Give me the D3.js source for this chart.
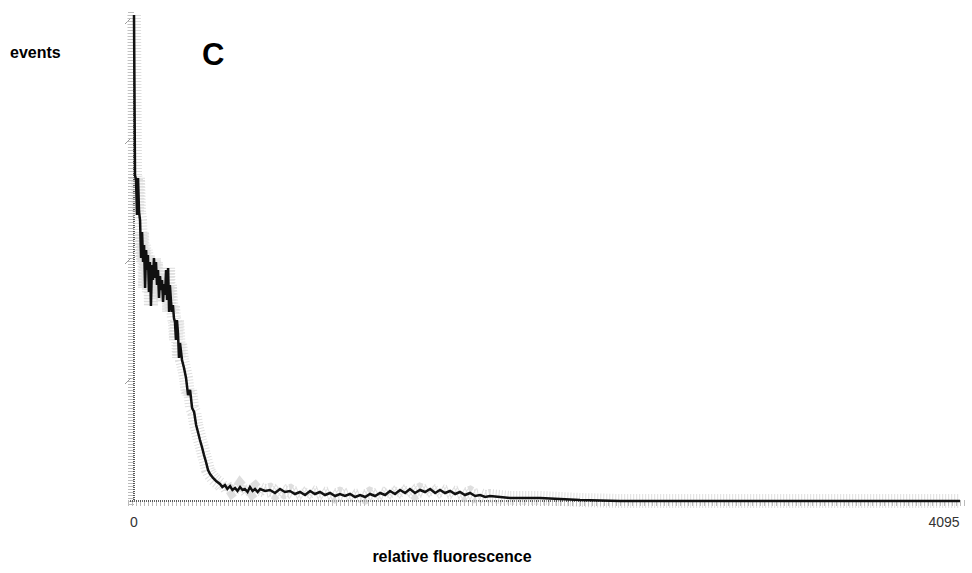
<!DOCTYPE html>
<meta charset="utf-8">
<html>
<head>
    <script src="https://cdn.jsdelivr.net/npm/d3@7"></script>
    <style>
        body { margin: 0; background: #fff; }
        text { font-family: "Liberation Sans", Arial, sans-serif; }
    </style>
</head>
<body>
    <script>
    // channel numbers (0..4095) and event counts
    var channels = [0, 5, 10, 15, 20, 25, 30, 35, 40, 45, 50, 55, 60, 65, 69, 74, 79, 84, 89, 94,
        99, 104, 109, 114, 119, 124, 129, 134, 139, 144, 149, 154, 159, 164, 169, 174, 178, 183, 188, 193,
        198, 203, 208, 213, 218, 223, 228, 238, 248, 258, 268, 278, 288, 298, 308, 317,
        327, 337, 347, 357, 367, 377, 392, 407, 426, 438, 451, 463, 476, 488, 501, 513, 526, 538, 550, 563, 575, 588, 600,
        613, 625, 650, 674, 699, 724, 748, 773, 798, 823, 848, 873, 897, 922, 947, 972, 997, 1021, 1046, 1071, 1096,
        1121, 1146, 1170, 1195, 1220, 1245, 1269, 1294, 1319, 1344, 1368, 1393, 1418, 1443, 1468, 1493,
        1517, 1542, 1567, 1592, 1616, 1641, 1666, 1691, 1716, 1741, 1765, 1815, 1864, 1914, 2013, 2112, 2211, 2410, 4095];
    var events = [486, 326, 321, 286, 323, 289, 281, 243, 269, 239, 256, 213, 251, 231, 246, 209, 239, 195, 236, 221,
        243, 223, 239, 216, 231, 203, 225, 211, 221, 199, 217, 206, 231, 201, 233, 189, 216, 201, 189, 196,
        183, 179, 161, 181, 168, 143, 158, 141, 133, 123, 106, 111, 93, 89, 76, 69,
        61, 54, 46, 39, 31, 27, 23, 20, 17, 14, 16, 12, 15, 11, 13, 10, 14, 11, 12, 9, 14, 10, 12,
        9, 12, 10, 11, 8, 12, 9, 10, 7, 9, 6, 10, 7, 9, 6, 8, 5, 7, 5, 7, 4,
        6, 4, 7, 5, 8, 6, 10, 7, 11, 8, 12, 8, 11, 9, 12, 8,
        11, 8, 10, 7, 9, 6, 8, 5, 6, 4, 5, 4, 3, 3, 3, 2, 1, 0, 0];
    var xTicks = [0, 4095];
    var yTicks = [120, 240, 360, 480];

    var svg = d3.select("body")
       .append("svg")
       .attr("width", 972)
       .attr("height", 573);

    var xScale = d3.scaleLinear()
       .domain([0, 4095])
       .range([134, 960]);

    var yScale = d3.scaleLinear()
       .domain([0, 486])
       .range([501, 15]);

    var data = channels.map(function(c, i) { return {c: c, n: events[i]}; });

    var line = d3.line()
       .x(function(d) { return xScale(d.c); })
       .y(function(d) { return yScale(d.n); });

    // grey speckle around the axes
    svg.append("line")
       .attr("x1", 131).attr("x2", 131)
       .attr("y1", 12).attr("y2", 505)
       .attr("stroke", "#bbb").attr("stroke-width", 6)
       .attr("stroke-dasharray", "1,2");
    svg.append("line")
       .attr("x1", 128).attr("x2", 965)
       .attr("y1", 503).attr("y2", 503)
       .attr("stroke", "#bbb").attr("stroke-width", 6)
       .attr("stroke-dasharray", "1,3");

    // axes, drawn dotted
    svg.append("line")
       .attr("x1", xScale(0)).attr("x2", xScale(0))
       .attr("y1", yScale(486)).attr("y2", yScale(0))
       .attr("stroke", "#222").attr("stroke-width", 1.5)
       .attr("stroke-dasharray", "1,1");
    svg.append("line")
       .attr("x1", xScale(0) - 4).attr("x2", xScale(4095))
       .attr("y1", yScale(0)).attr("y2", yScale(0))
       .attr("stroke", "#333").attr("stroke-width", 1.5)
       .attr("stroke-dasharray", "1,1");

    svg.selectAll(".ytick")
       .data(yTicks)
       .enter()
       .append("line")
       .attr("class", "ytick")
       .attr("x1", 125).attr("x2", 131)
       .attr("y1", function(d) { return yScale(d) + 3; })
       .attr("y2", function(d) { return yScale(d) - 3; })
       .attr("stroke", "#999").attr("stroke-width", 1);

    // halo then trace
    svg.append("path")
       .datum(data)
       .attr("d", line)
       .attr("fill", "none")
       .attr("stroke", "#c8c8c8")
       .attr("stroke-width", 14)
       .attr("stroke-dasharray", "1,2")
       .attr("opacity", 0.6);

    svg.append("path")
       .datum(data)
       .attr("d", line)
       .attr("fill", "none")
       .attr("stroke", "#111")
       .attr("stroke-width", 2.5);

    svg.selectAll(".xlab")
       .data(xTicks)
       .enter()
       .append("text")
       .attr("class", "xlab")
       .attr("x", function(d, i) { return i == 0 ? xScale(d) : xScale(d) - 16; })
       .attr("y", 527)
       .attr("text-anchor", "middle")
       .attr("font-size", 14)
       .attr("fill", "#333")
       .text(function(d) { return d; });

    svg.append("text")
       .attr("x", 10).attr("y", 58)
       .attr("font-size", 16).attr("font-weight", "bold")
       .text("events");

    svg.append("text")
       .attr("x", 202).attr("y", 65)
       .attr("font-size", 31).attr("font-weight", "bold")
       .text("C");

    svg.append("text")
       .attr("x", 452).attr("y", 562)
       .attr("text-anchor", "middle")
       .attr("font-size", 16).attr("font-weight", "bold")
       .text("relative fluorescence");
    </script>
</body>
</html>
